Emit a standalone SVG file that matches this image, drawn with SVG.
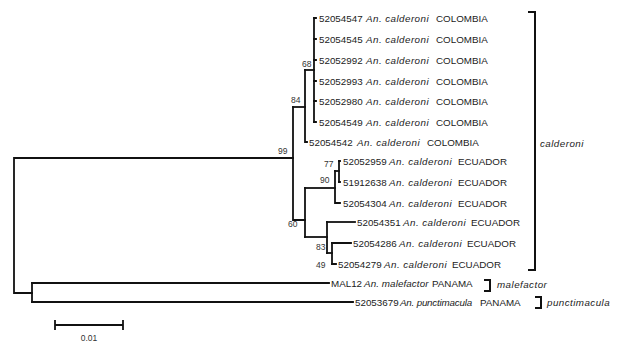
<svg xmlns="http://www.w3.org/2000/svg" width="617" height="344" viewBox="0 0 617 344">
<style>
.br{fill:none;stroke:#111;stroke-width:1.8;stroke-linecap:square}
.t{font-family:"Liberation Sans",Arial,sans-serif;font-size:9.8px;fill:#222}
.i{font-style:italic;letter-spacing:0.45px}
.s{font-family:"Liberation Sans",Arial,sans-serif;font-size:8.5px;fill:#333}
.bk{fill:none;stroke:#111;stroke-width:2}
</style>
<rect width="617" height="344" fill="#fff"/>
<g id="connectors">
<path class="br" d="M293,158 H14 V293 H32"/>
<path class="br" d="M32,283 V302"/>
<path class="br" d="M32,283 H329"/>
<path class="br" d="M32,302 H353"/>
<path class="br" d="M293,107 V220 H305"/>
<path class="br" d="M293,107 H305"/>
<path class="br" d="M305,70 V142 H307"/>
<path class="br" d="M305,70 H314"/>
<path class="br" d="M314,18 V122"/>
<path class="br" d="M314,18 H316 M314,39 H316 M314,60 H316 M314,81 H316 M314,101 H316 M314,122 H316"/>
<path class="br" d="M305,188 V237"/>
<path class="br" d="M305,188 H335"/>
<path class="br" d="M305,237 H327"/>
<path class="br" d="M335,171 V203 H340"/>
<path class="br" d="M335,171 H339"/>
<path class="br" d="M339,161 V182"/>
<path class="br" d="M339,161 H340 M339,182 H340"/>
<path class="br" d="M327,222 V253"/>
<path class="br" d="M327,222 H355"/>
<path class="br" d="M327,253 H332"/>
<path class="br" d="M332,243 V264"/>
<path class="br" d="M332,243 H351 M332,264 H336"/>
<path class="br" d="M55,325 H123 M55,321 V329 M123,321 V329"/>
</g>
<g id="support">
<text class="s" x="278" y="154">99</text>
<text class="s" x="291" y="103">84</text>
<text class="s" x="302" y="67">68</text>
<text class="s" x="324" y="167">77</text>
<text class="s" x="320" y="183">90</text>
<text class="s" x="288" y="227">60</text>
<text class="s" x="316" y="250">83</text>
<text class="s" x="316" y="268">49</text>
</g>
<g id="taxa">
<text class="t" x="319" y="21.5">52054547<tspan class="i" x="366">An. calderoni</tspan><tspan x="436">COLOMBIA</tspan></text>
<text class="t" x="319" y="42.5">52054545<tspan class="i" x="366">An. calderoni</tspan><tspan x="436">COLOMBIA</tspan></text>
<text class="t" x="319" y="63.5">52052992<tspan class="i" x="366">An. calderoni</tspan><tspan x="436">COLOMBIA</tspan></text>
<text class="t" x="319" y="84.5">52052993<tspan class="i" x="366">An. calderoni</tspan><tspan x="436">COLOMBIA</tspan></text>
<text class="t" x="319" y="104.5">52052980<tspan class="i" x="366">An. calderoni</tspan><tspan x="436">COLOMBIA</tspan></text>
<text class="t" x="319" y="125.5">52054549<tspan class="i" x="366">An. calderoni</tspan><tspan x="436">COLOMBIA</tspan></text>
<text class="t" x="309" y="145.5">52054542<tspan class="i" x="357">An. calderoni</tspan><tspan x="427">COLOMBIA</tspan></text>
<text class="t" x="343" y="164.5">52052959<tspan class="i" x="389">An. calderoni</tspan><tspan x="458">ECUADOR</tspan></text>
<text class="t" x="343" y="185.5">51912638<tspan class="i" x="389">An. calderoni</tspan><tspan x="458">ECUADOR</tspan></text>
<text class="t" x="343" y="206.5">52054304<tspan class="i" x="389">An. calderoni</tspan><tspan x="458">ECUADOR</tspan></text>
<text class="t" x="357" y="225.5">52054351<tspan class="i" x="403">An. calderoni</tspan><tspan x="471">ECUADOR</tspan></text>
<text class="t" x="353" y="246.5">52054286<tspan class="i" x="399">An. calderoni</tspan><tspan x="467">ECUADOR</tspan></text>
<text class="t" x="338" y="267.5">52054279<tspan class="i" x="384">An. calderoni</tspan><tspan x="452">ECUADOR</tspan></text>
<text class="t" x="331" y="286.5">MAL12<tspan class="i" x="364" style="letter-spacing:0.1px">An. malefactor</tspan><tspan x="432">PANAMA</tspan></text>
<text class="t" x="355" y="305.5">52053679<tspan class="i" x="400" style="letter-spacing:-0.2px">An. punctimacula</tspan><tspan x="480">PANAMA</tspan></text>
</g>
<g id="clades">
<path class="bk" d="M528,12 H535 V270 H528"/>
<text class="t i" x="540" y="147">calderoni</text>
<path class="bk" d="M484,280 H490 V291 H484"/>
<text class="t i" x="497" y="288">malefactor</text>
<path class="bk" d="M535,297 H541 V308 H535"/>
<text class="t i" x="547" y="306">punctimacula</text>
</g>
<g id="scale">
<text class="s" x="89" y="341" text-anchor="middle">0.01</text>
</g>
</svg>
